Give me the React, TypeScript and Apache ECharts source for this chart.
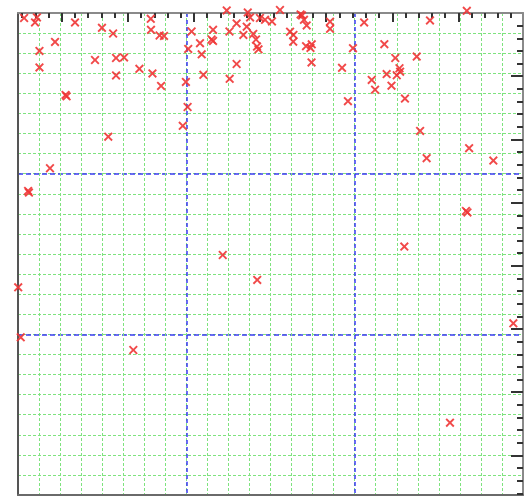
import React, { useEffect, useRef } from "react";
import * as echarts from "echarts";

// point coordinates (data units; grid cell = 1, major cell = 8)
const xs = [
  0.29, 0.9, 0.81, 2.71, 3.99, 4.52, 1.76, 1.02, 1.02, 3.66, 4.66, 5.04, 4.66, 5.77, 6.39, 6.8,
  2.26, 2.31, 6.31, 6.32, 6.73, 6.94, 9.92, 10.92, 11.03, 11.5, 11.74, 12.07, 12.45, 13.43, 13.5,
  13.59, 13.72, 14.83, 14.83, 10.39, 10.87, 10.05, 9.27, 8.25, 11.18, 11.31, 10.71, 9.2, 9.27,
  8.65, 11.36, 11.43, 8.09, 8.73, 12.93, 13.09, 13.08, 13.69, 13.9, 13.96, 13.95, 10.39, 15.4,
  8.81, 10.06, 7.98, 8.06, 15.68, 15.92, 16.45, 19.58, 21.33, 17.41, 17.93, 18.95, 18.13, 18.16,
  18.0, 17.52, 16.81, 16.97, 17.75, 18.39, 19.11, 7.83, 4.29, 1.52, 0.48, 0.52, 9.73, 21.44,
  19.42, 22.59, 21.29, 21.36, 18.36, 0.01, 0.13, 5.48, 11.37, 23.54, 20.53,
];
const ys = [
  23.75, 23.78, 23.53, 23.53, 23.26, 22.98, 22.56, 22.11, 21.29, 21.66, 21.76, 21.79, 20.89, 21.22,
  20.99, 20.37, 19.92, 19.85, 23.71, 23.16, 22.88, 22.86, 24.13, 24.03, 23.78, 23.75, 23.66, 23.58,
  24.15, 23.93, 23.88, 23.66, 23.38, 23.57, 23.21, 23.48, 23.32, 23.08, 23.16, 23.08, 22.96, 22.68,
  22.91, 22.68, 22.61, 22.5, 22.33, 22.19, 22.21, 21.94, 23.07, 22.91, 22.57, 22.35, 22.26, 22.44,
  21.54, 21.46, 21.27, 20.92, 20.72, 20.57, 19.32, 19.61, 22.25, 23.53, 23.63, 24.11, 22.45, 21.76,
  21.83, 21.25, 21.08, 20.9, 20.96, 20.67, 20.18, 20.38, 19.74, 18.13, 18.38, 17.84, 16.27, 15.14,
  15.06, 11.95, 17.27, 16.77, 16.65, 14.14, 14.07, 12.37, 10.34, 7.85, 7.22, 10.71, 8.55, 3.6,
];

// tick positions on the top and right frames (their own units)
const topMajorTicks = [0, 5, 10, 15, 20, 25, 30];
const topMinorTicks = [
  -3, -2, -1, 1, 2, 3, 4, 6, 7, 8, 9, 11, 12, 13, 14, 16, 17, 18, 19, 21, 22, 23, 24, 26, 27, 28,
  29, 31, 32, 33, 34,
];
const rightMajorTicks = [5, 10, 15, 20, 25, 30, 35];
const rightMinorTicks = [
  1, 2, 3, 4, 6, 7, 8, 9, 11, 12, 13, 14, 16, 17, 18, 19, 21, 22, 23, 24, 26, 27, 28, 29, 31, 32,
  33, 34, 36, 37, 38,
];

const X_MIN = 0;
const X_MAX = 24;
const Y_MIN = 0;
const Y_MAX = 24;
const MINOR_STEP = 1;
const MAJOR_STEP = 8;

const CROSS =
  "path://M0,1.5L1.5,0L5,3.5L8.5,0L10,1.5L6.5,5L10,8.5L8.5,10L5,6.5L1.5,10L0,8.5L3.5,5Z";

export default function App() {
  const ref = useRef<HTMLDivElement>(null);

  useEffect(() => {
    if (!ref.current) return;
    const chart = echarts.init(ref.current, undefined, { renderer: "svg" });
    const green = { color: "#7ee37e", width: 1, type: [3, 2] as any };
    const hidden = { show: false };
    const noLine = { show: false, onZero: false };
    const rect = { left: 18, top: 13, right: 7, bottom: 3, containLabel: false };
    const tickStyle = { color: "#333", width: 2 };
    const option: any = {
      animation: false,
      backgroundColor: "#ffffff",
      grid: [rect, rect],
      xAxis: [
        {
          gridIndex: 0,
          type: "value",
          position: "bottom",
          min: X_MIN,
          max: X_MAX,
          interval: MINOR_STEP,
          axisLine: { show: true, onZero: false, lineStyle: { color: "#6a6a6a", width: 2 } },
          axisTick: hidden,
          axisLabel: hidden,
          splitLine: { show: true, showMinLine: false, showMaxLine: false, lineStyle: green },
        },
        {
          gridIndex: 0,
          type: "value",
          position: "top",
          min: -3.31,
          max: 34.89,
          axisLine: { show: true, onZero: false, lineStyle: { color: "#8a8a8a", width: 2 } },
          axisTick: { show: true, inside: true, length: 9, customValues: topMajorTicks, lineStyle: tickStyle },
          axisLabel: { show: false },
          splitLine: hidden,
        },
        {
          gridIndex: 1,
          type: "value",
          position: "bottom",
          min: X_MIN,
          max: X_MAX,
          interval: MAJOR_STEP,
          axisLine: noLine,
          axisTick: hidden,
          axisLabel: hidden,
          splitLine: {
            show: true,
            showMinLine: false,
            showMaxLine: false,
            lineStyle: { color: "#3b3bf2", width: 1.5, type: [4, 3] },
          },
        },
        {
          gridIndex: 1,
          type: "value",
          position: "top",
          min: -3.31,
          max: 34.89,
          axisLine: noLine,
          axisTick: { show: true, inside: true, length: 5, customValues: topMinorTicks, lineStyle: tickStyle },
          axisLabel: { show: false },
          splitLine: hidden,
        },
      ],
      yAxis: [
        {
          gridIndex: 0,
          type: "value",
          position: "left",
          min: Y_MIN,
          max: Y_MAX,
          interval: MINOR_STEP,
          axisLine: { show: true, onZero: false, lineStyle: { color: "#555", width: 2 } },
          axisTick: hidden,
          axisLabel: hidden,
          splitLine: { show: true, showMinLine: false, showMaxLine: false, lineStyle: green },
        },
        {
          gridIndex: 0,
          type: "value",
          position: "right",
          inverse: true,
          min: 0,
          max: 38.13,
          axisLine: { show: true, onZero: false, lineStyle: { color: "#8a8a8a", width: 2 } },
          axisTick: { show: true, inside: true, length: 12, customValues: rightMajorTicks, lineStyle: tickStyle },
          axisLabel: { show: false },
          splitLine: hidden,
        },
        {
          gridIndex: 1,
          type: "value",
          position: "left",
          min: Y_MIN,
          max: Y_MAX,
          interval: MAJOR_STEP,
          axisLine: noLine,
          axisTick: hidden,
          axisLabel: hidden,
          splitLine: {
            show: true,
            showMinLine: false,
            showMaxLine: false,
            lineStyle: { color: "#3b3bf2", width: 1.5, type: [5, 3] },
          },
        },
        {
          gridIndex: 1,
          type: "value",
          position: "right",
          inverse: true,
          min: 0,
          max: 38.13,
          axisLine: noLine,
          axisTick: { show: true, inside: true, length: 6, customValues: rightMinorTicks, lineStyle: tickStyle },
          axisLabel: { show: false },
          splitLine: hidden,
        },
      ],
      series: [
        {
          type: "scatter",
          xAxisIndex: 0,
          yAxisIndex: 0,
          clip: false,
          symbol: CROSS,
          symbolSize: 9,
          itemStyle: { color: "#ef3535", opacity: 0.9 },
          data: xs.map((x, i) => [x, ys[i]]),
          z: 5,
        },
      ],
    };
    chart.setOption(option);
    return () => chart.dispose();
  }, []);

  return (
    <div
      ref={ref}
      style={{ position: "fixed", left: 0, top: 0, width: 530, height: 498, background: "#fff" }}
    />
  );
}
